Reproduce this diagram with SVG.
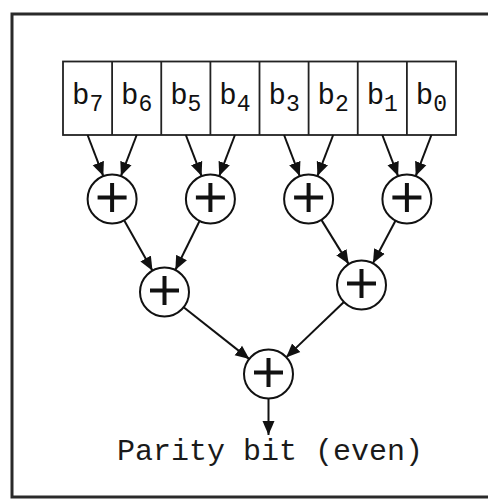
<svg xmlns="http://www.w3.org/2000/svg" width="488" height="500" viewBox="0 0 488 500">
<style>
.frame{fill:none;stroke:#2a2a2a;stroke-width:3}
.box{fill:#fff;stroke:#222;stroke-width:1.8}
.lbl{font-family:"Liberation Mono","Courier New",monospace;font-size:29px;fill:#111}
.sub{font-size:23px}
.op{fill:#fff;stroke:#111;stroke-width:2}
.plus{fill:none;stroke:#111;stroke-width:4}
.edge{fill:none;stroke:#111;stroke-width:2}
.cap{font-family:"Liberation Mono","Courier New",monospace;font-size:30px;fill:#1a1a1a}
</style>
<defs>
<marker id="ah" markerUnits="userSpaceOnUse" markerWidth="15" markerHeight="13" refX="14" refY="6.5" orient="auto">
<path d="M0,0.5 L14,6.5 L0,12.5 Z" fill="#111"/>
</marker>
</defs>
<rect class="frame" x="12" y="14" width="490" height="483"/>
<g id="register">
<rect class="box" x="63" y="61.5" width="393" height="73.5"/>
<path class="box" d="M112.1,61.5V135M161.25,61.5V135M210.4,61.5V135M259.5,61.5V135M308.6,61.5V135M357.75,61.5V135M406.9,61.5V135"/>
</g>
<g id="b7"><text class="lbl" x="87.6" y="104" text-anchor="middle">b<tspan class="sub" dy="7">7</tspan></text></g>
<g id="b6"><text class="lbl" x="136.7" y="104" text-anchor="middle">b<tspan class="sub" dy="7">6</tspan></text></g>
<g id="b5"><text class="lbl" x="185.8" y="104" text-anchor="middle">b<tspan class="sub" dy="7">5</tspan></text></g>
<g id="b4"><text class="lbl" x="234.9" y="104" text-anchor="middle">b<tspan class="sub" dy="7">4</tspan></text></g>
<g id="b3"><text class="lbl" x="284.1" y="104" text-anchor="middle">b<tspan class="sub" dy="7">3</tspan></text></g>
<g id="b2"><text class="lbl" x="333.2" y="104" text-anchor="middle">b<tspan class="sub" dy="7">2</tspan></text></g>
<g id="b1"><text class="lbl" x="382.3" y="104" text-anchor="middle">b<tspan class="sub" dy="7">1</tspan></text></g>
<g id="b0"><text class="lbl" x="431.4" y="104" text-anchor="middle">b<tspan class="sub" dy="7">0</tspan></text></g>
<g id="connectors">
<line class="edge" x1="87.56" y1="135" x2="103.3" y2="176.1" marker-end="url(#ah)"/>
<line class="edge" x1="136.69" y1="135" x2="120.9" y2="176.1" marker-end="url(#ah)"/>
<line class="edge" x1="185.81" y1="135" x2="201.6" y2="176.1" marker-end="url(#ah)"/>
<line class="edge" x1="234.94" y1="135" x2="219.2" y2="176.1" marker-end="url(#ah)"/>
<line class="edge" x1="284.06" y1="135" x2="299.8" y2="176.1" marker-end="url(#ah)"/>
<line class="edge" x1="333.19" y1="135" x2="317.4" y2="176.1" marker-end="url(#ah)"/>
<line class="edge" x1="382.31" y1="135" x2="398.1" y2="176.1" marker-end="url(#ah)"/>
<line class="edge" x1="431.44" y1="135" x2="415.7" y2="176.1" marker-end="url(#ah)"/>
<line class="edge" x1="124.1" y1="220.3" x2="152.5" y2="270.7" marker-end="url(#ah)"/>
<line class="edge" x1="199.56" y1="220.97" x2="175.34" y2="270.03" marker-end="url(#ah)"/>
<line class="edge" x1="321.4" y1="219.9" x2="348.7" y2="264.1" marker-end="url(#ah)"/>
<line class="edge" x1="395.46" y1="220.67" x2="372.94" y2="263.33" marker-end="url(#ah)"/>
<line class="edge" x1="183.65" y1="307.28" x2="249.35" y2="359.1" marker-end="url(#ah)"/>
<line class="edge" x1="343.9" y1="302.04" x2="286.1" y2="357.4" marker-end="url(#ah)"/>
<line class="edge" x1="268.5" y1="398.5" x2="268.5" y2="435" marker-end="url(#ah)"/>
</g>
<g id="x1"><circle class="op" cx="112.1" cy="199" r="24.5"/><path class="plus" d="M97.6,197.5H126.6M112.1,183V212"/></g>
<g id="x2"><circle class="op" cx="210.4" cy="199" r="24.5"/><path class="plus" d="M195.9,197.5H224.9M210.4,183V212"/></g>
<g id="x3"><circle class="op" cx="308.6" cy="199" r="24.5"/><path class="plus" d="M294.1,197.5H323.1M308.6,183V212"/></g>
<g id="x4"><circle class="op" cx="406.9" cy="199" r="24.5"/><path class="plus" d="M392.4,197.5H421.4M406.9,183V212"/></g>
<g id="x5"><circle class="op" cx="164.5" cy="292" r="24.5"/><path class="plus" d="M150,290.5H179M164.5,276V305"/></g>
<g id="x6"><circle class="op" cx="361.5" cy="285" r="24.5"/><path class="plus" d="M347,283.5H376M361.5,269V298"/></g>
<g id="x7"><circle class="op" cx="268.5" cy="374" r="24.5"/><path class="plus" d="M254,372.5H283M268.5,358V387"/></g>
<g id="result"><text class="cap" x="270" y="460" text-anchor="middle">Parity bit (even)</text></g>
</svg>
